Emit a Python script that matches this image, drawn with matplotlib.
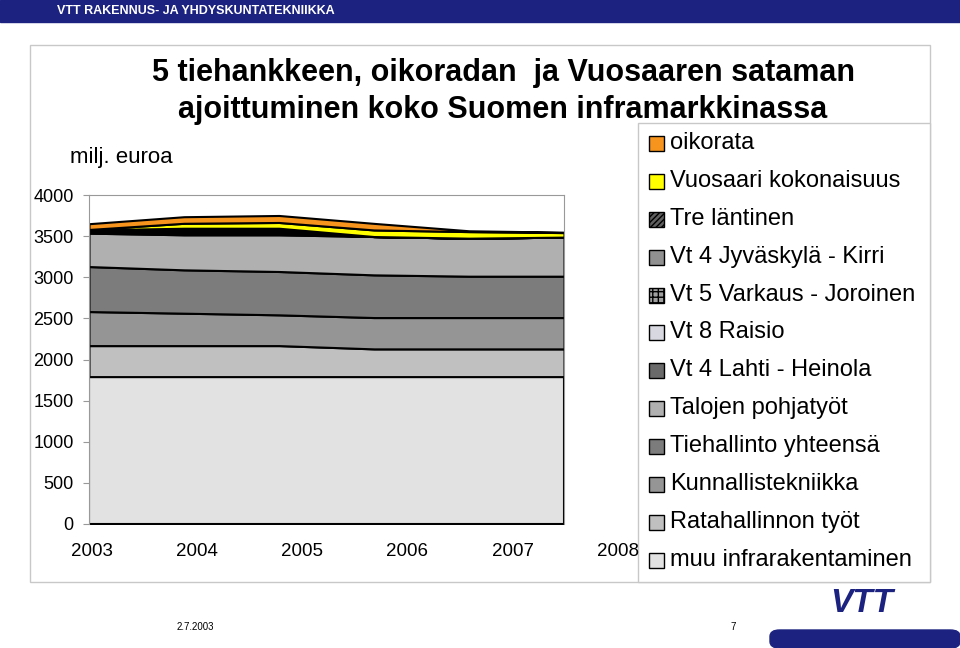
import matplotlib
matplotlib.use("Agg")
import matplotlib.pyplot as plt
from matplotlib.patches import Rectangle, FancyBboxPatch
import numpy as np

years = ["2003", "2004", "2005", "2006", "2007", "2008"]
# stacked bottom -> top
series_names = ["muu infrarakentaminen", "Ratahallinnon työt", "Kunnallistekniikka",
                "Tiehallinto yhteensä", "Talojen pohjatyöt", "Vt 4 Lahti - Heinola",
                "Vt 8 Raisio", "Vt 5 Varkaus - Joroinen", "Vt 4 Jyväskylä - Kirri",
                "Tre läntinen", "Vuosaari kokonaisuus", "oikorata"]
muu = [1792, 1792, 1792, 1792, 1792, 1792]
rata = [377, 377, 377, 337, 337, 337]
kunnallis = [414, 394, 374, 381, 381, 381]
tiehallinto = [547, 527, 527, 519, 503, 503]
talojen = [406, 426, 446, 466, 462, 475]
vt4_lahti = [10, 20, 20, 0, 0, 0]
vt8 = [5, 10, 10, 0, 0, 0]
vt5 = [10, 20, 20, 0, 0, 0]
vt4_jkl = [10, 20, 20, 0, 0, 0]
tre = [5, 10, 10, 0, 0, 0]
vuosaari = [5, 60, 70, 80, 80, 55]
oikorata = [70, 80, 85, 80, 10, 5]
values = [muu, rata, kunnallis, tiehallinto, talojen, vt4_lahti, vt8, vt5,
          vt4_jkl, tre, vuosaari, oikorata]
yticks = [0, 500, 1000, 1500, 2000, 2500, 3000, 3500, 4000]

colors = ["#e2e2e2", "#c0c0c0", "#959595", "#7c7c7c", "#b0b0b0", "#6a6a6a",
          "#d8d8e0", "#a0a0a0", "#909090", "#606060", "#ffff00", "#f7941d"]
hatches = [None, None, None, None, None, None, None, "+++", None, "//////", None, None]

W, H = 960, 648
fig = plt.figure(figsize=(9.6, 6.48), dpi=100)

def fx(px): return px / W
def fy(py): return 1 - py / H

# header banner
fig.patches.append(Rectangle((0, fy(22)), 1, 22 / H, transform=fig.transFigure,
                             color="#1c2280", zorder=0))
fig.text(fx(57), fy(11), "VTT RAKENNUS- JA YHDYSKUNTATEKNIIKKA", color="white",
         fontsize=9, fontweight="bold", va="center", ha="left", family="Liberation Sans")
# chart frame
fig.patches.append(Rectangle((fx(30), fy(582)), fx(900), 537 / H, transform=fig.transFigure,
                             fill=False, edgecolor="#c8c8c8", lw=1))

ax = fig.add_axes([fx(89), fy(524), fx(564 - 89), (524 - 195) / H])
x = np.arange(len(years))
ys = np.vstack(values)
cum = np.cumsum(ys, axis=0)
bottom = np.zeros(len(years))
for i, name in enumerate(series_names):
    top = cum[i]
    ax.fill_between(x, bottom, top, facecolor=colors[i], edgecolor="black",
                    hatch=hatches[i], lw=1.5)
    bottom = top
ax.set_xlim(0, 5)
ax.set_ylim(0, 4000)
ax.set_yticks(yticks)
ax.set_yticklabels([str(v) for v in yticks], fontsize=13, family="Liberation Sans")
ax.tick_params(axis="y", length=4, color="#999999", pad=7)
ax.set_xticks([])
for s in ax.spines.values():
    s.set_color("#999999")
ax.spines["bottom"].set_visible(False)

# x labels (positions as shown in the reference)
lab_px = [92, 197, 302, 407, 513, 618]
for px, lab in zip(lab_px, years):
    fig.text(fx(px), fy(552), lab, ha="center", va="center", fontsize=13.5,
             family="Liberation Sans")

fig.text(fx(503), fy(73), "5 tiehankkeen, oikoradan  ja Vuosaaren sataman",
         ha="center", va="center", fontsize=22, fontweight="bold", family="Liberation Sans")
fig.text(fx(503), fy(110), "ajoittuminen koko Suomen inframarkkinassa",
         ha="center", va="center", fontsize=22, fontweight="bold", family="Liberation Sans")
fig.text(fx(70), fy(157), "milj. euroa", ha="left", va="center", fontsize=16,
         family="Liberation Sans")

# legend
fig.patches.append(Rectangle((fx(638), fy(582)), fx(930 - 638), (582 - 123) / H,
                             transform=fig.transFigure, facecolor="white",
                             edgecolor="#c8c8c8", lw=1, zorder=3))
leg_order = list(range(len(series_names)))[::-1]
for k, i in enumerate(leg_order):
    yc = 143 + k * 37.9
    fig.patches.append(Rectangle((fx(649), fy(yc + 8)), fx(15), 15 / H,
                                 transform=fig.transFigure, facecolor=colors[i],
                                 hatch=hatches[i], edgecolor="black", lw=1, zorder=4))
    fig.text(fx(670), fy(yc), series_names[i], ha="left", va="center", fontsize=17,
             family="Liberation Sans", zorder=5)

# footer
fig.text(fx(195), fy(627), "2.7.2003", fontsize=7, ha="center", va="center",
         family="Liberation Sans")
fig.text(fx(733), fy(627), "7", fontsize=7, ha="center", va="center",
         family="Liberation Sans")
fig.text(fx(862), fy(603), "VTT", fontsize=24, fontweight="bold", style="italic",
         color="#1c2280", ha="center", va="center", family="Liberation Sans")
fig.patches.append(FancyBboxPatch((fx(770), fy(648)), fx(190), 18 / H,
                                  boxstyle="round,pad=0,rounding_size=0.01",
                                  transform=fig.transFigure, color="#1c2280"))

fig.savefig("out.png", dpi=100)
